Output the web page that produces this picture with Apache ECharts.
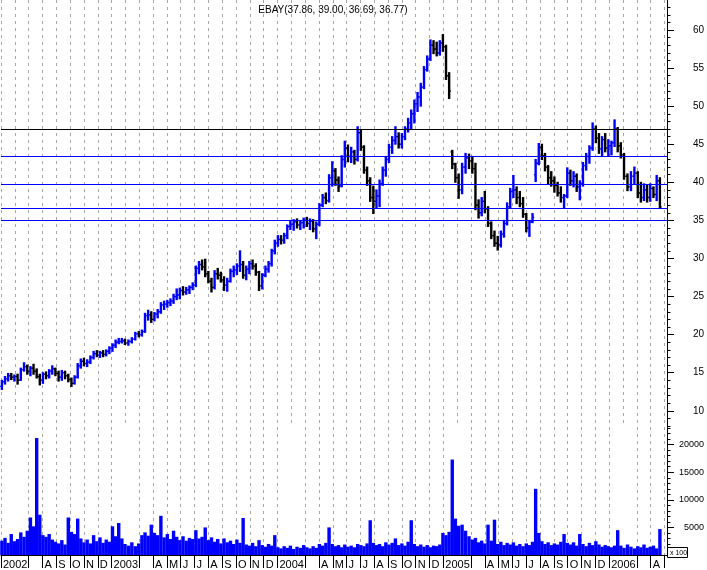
<!DOCTYPE html>
<html><head><meta charset="utf-8">
<script src="https://cdn.jsdelivr.net/npm/echarts@6/dist/echarts.min.js"></script>
<style>html,body{margin:0;padding:0;background:#fff}#c{width:707px;height:570px}</style>
</head><body><div id="c"></div>
<script>
const titleText = 'EBAY(37.86, 39.00, 36.69, 36.77)';
const firstWeek = [2002, 5, 3];
const open = [13.2,13.8,14.2,14.6,14.4,14.5,14.0,15.4,15.8,15.2,15.6,15.2,14.5,14.0,14.8,14.6,15.2,15.5,14.9,14.4,
15.0,14.6,14.1,13.6,14.4,15.9,16.5,16.2,16.4,17.0,17.5,17.3,17.6,17.4,17.8,18.2,18.6,19.0,19.1,19.2,
18.9,19.1,19.4,20.1,20.0,20.4,22.5,22.6,22.0,22.7,23.0,23.9,24.0,24.2,24.4,25.0,25.2,25.8,25.6,25.9,
26.2,26.5,28.7,29.2,28.9,28.0,27.0,26.2,28.0,27.8,27.2,26.5,27.0,28.3,28.5,29.0,29.2,27.8,28.6,29.3,
29.0,28.2,26.4,27.8,28.6,29.3,31.0,32.0,32.5,32.4,33.0,34.2,34.5,34.8,34.4,34.7,35.0,34.6,34.9,33.9,
34.5,37.0,38.0,37.6,40.6,41.5,40.3,39.5,43.0,44.5,43.4,44.0,43.0,46.5,44.6,41.6,40.2,38.0,37.5,38.2,
39.8,41.6,43.0,44.6,45.5,46.0,45.0,46.0,47.0,47.8,49.0,50.3,51.2,52.5,54.8,56.2,58.0,57.5,57.0,58.3,
57.8,54.0,44.0,42.4,40.6,39.0,42.0,43.2,42.8,41.8,37.0,36.0,37.5,36.5,34.6,33.0,32.0,31.8,33.2,34.6,
36.8,38.8,39.0,38.0,37.2,35.8,34.0,34.8,41.0,42.5,44.6,43.5,42.0,40.6,40.2,39.6,38.6,38.0,38.2,41.2,
40.2,40.8,39.4,39.8,42.2,43.4,44.5,47.0,45.8,44.4,45.6,44.5,44.8,45.2,47.0,44.8,43.6,40.8,39.4,40.8,
41.2,38.6,38.0,39.0,38.0,39.2,38.4,40.2];
const high = [14.0,14.5,14.9,14.9,14.7,14.8,15.6,16.3,16.0,15.8,16.1,15.5,14.8,15.0,15.1,15.4,15.9,15.6,15.2,15.3,
15.2,14.8,14.3,14.6,16.2,16.8,16.9,16.7,17.2,17.8,17.9,17.8,17.9,18.0,18.4,18.8,19.3,19.5,19.5,19.4,
19.3,19.6,20.3,20.4,20.6,22.8,23.2,23.0,22.9,23.3,24.2,24.4,24.5,24.7,25.3,26.0,26.1,26.3,26.2,26.4,
26.8,29.0,29.6,29.8,29.9,28.3,27.4,28.4,28.7,28.2,27.6,27.4,28.6,29.0,29.3,31.0,29.6,29.0,29.6,29.8,
29.3,28.3,28.0,29.0,29.6,31.2,32.4,33.0,33.0,33.3,34.4,35.0,35.1,35.2,35.0,35.3,35.4,35.2,35.1,34.8,
37.2,38.4,38.6,41.0,42.7,41.8,40.7,43.5,45.4,44.9,44.6,44.2,47.3,46.8,44.8,42.0,40.6,39.5,39.0,40.3,
42.0,43.4,45.0,46.0,47.3,46.5,46.4,47.3,48.4,49.5,50.8,51.8,53.0,55.2,56.6,58.7,58.6,58.4,58.6,59.4,
58.0,54.4,44.2,42.5,41.1,42.5,43.8,43.7,43.4,42.5,37.7,38.0,38.8,36.8,34.8,33.6,32.9,33.6,35.0,37.3,
39.2,40.9,39.4,38.8,38.0,35.9,35.0,35.9,43.0,45.1,45.0,43.8,42.2,41.4,40.7,40.0,39.4,38.4,41.9,41.6,
41.4,41.1,40.2,42.6,43.8,44.8,47.8,47.4,46.4,46.0,46.4,45.6,45.4,48.2,47.2,45.2,43.8,41.1,41.4,42.0,
41.4,40.0,39.8,39.6,39.8,39.4,40.9,40.6];
const low = [12.8,13.5,13.9,14.1,13.9,13.5,14.0,15.2,14.8,14.6,14.8,14.3,13.4,13.6,14.2,14.3,14.8,14.6,13.9,14.0,
14.2,13.8,13.2,13.5,14.3,15.6,15.9,15.8,16.2,16.8,17.1,17.0,17.1,17.2,17.5,17.8,18.3,18.8,18.9,18.7,
18.6,18.9,19.3,19.7,19.8,20.3,21.9,21.6,21.8,22.2,22.8,23.3,23.6,23.8,24.1,24.6,24.7,25.2,25.3,25.4,
25.9,26.3,28.0,28.5,27.6,26.8,25.6,26.0,27.3,26.9,25.8,25.7,26.9,27.6,27.9,28.3,27.4,27.2,28.0,28.6,
27.8,25.8,26.0,27.6,28.2,29.0,30.6,31.6,31.9,32.0,32.6,33.8,33.7,34.0,33.8,34.0,34.2,33.8,33.5,32.6,
34.3,36.8,37.2,37.4,39.5,39.6,38.8,39.4,42.0,42.7,42.6,42.4,42.8,44.2,41.2,39.6,37.5,35.9,36.6,36.8,
39.6,40.8,42.6,43.8,45.0,44.5,44.5,45.6,46.6,47.0,47.8,49.3,50.0,52.3,54.6,56.0,56.9,56.6,56.7,57.2,
53.5,51.0,41.8,40.0,37.9,38.5,41.2,41.8,41.2,36.4,35.3,35.6,36.0,34.2,32.6,31.6,31.1,31.5,32.8,34.4,
36.6,38.0,37.2,36.8,35.4,33.5,32.9,34.7,40.1,42.3,43.0,41.5,39.8,39.5,38.7,38.2,37.4,36.6,38.0,39.6,
39.4,38.8,37.7,39.5,41.6,42.5,44.2,45.2,43.8,43.4,44.0,43.4,43.6,44.7,44.0,43.2,40.4,38.9,38.9,39.8,
38.0,37.4,37.6,37.4,37.5,38.0,37.6,36.69];
const close = [13.8,14.2,14.6,14.4,14.5,14.0,15.4,15.8,15.2,15.6,15.2,14.5,14.0,14.8,14.6,15.2,15.5,14.9,14.4,15.0,
14.6,14.1,13.6,14.4,15.9,16.5,16.2,16.4,17.0,17.5,17.3,17.6,17.4,17.8,18.2,18.6,19.0,19.1,19.2,18.9,
19.1,19.4,20.1,20.0,20.4,22.5,22.6,22.0,22.7,23.0,23.9,24.0,24.2,24.4,25.0,25.2,25.8,25.6,25.9,26.2,
26.5,28.7,29.2,28.9,28.0,27.0,26.2,28.0,27.8,27.2,26.5,27.0,28.3,28.5,29.0,29.2,27.8,28.6,29.3,29.0,
28.2,26.4,27.8,28.6,29.3,31.0,32.0,32.5,32.4,33.0,34.2,34.5,34.8,34.4,34.7,35.0,34.6,34.9,33.9,34.5,
37.0,38.0,37.6,40.6,41.5,40.3,39.5,43.0,44.5,43.4,44.0,43.0,46.5,44.6,41.6,40.2,38.0,37.5,38.2,39.8,
41.6,43.0,44.6,45.5,46.0,45.0,46.0,47.0,47.8,49.0,50.3,51.2,52.5,54.8,56.2,58.0,57.5,57.0,58.3,57.8,
54.0,52.0,42.4,40.6,39.0,42.0,43.2,42.8,41.8,37.0,36.0,37.5,36.5,34.6,33.0,32.0,31.8,33.2,34.6,36.8,
38.8,39.0,38.0,37.2,35.8,34.0,34.8,35.4,42.5,44.6,43.5,42.0,40.6,40.2,39.6,38.6,38.0,38.2,41.2,40.2,
40.8,39.4,39.8,42.2,43.4,44.5,47.0,45.8,44.4,45.6,44.5,44.8,45.2,47.0,44.8,43.6,40.8,39.4,40.8,41.2,
38.6,38.0,39.0,38.0,39.2,38.4,40.2,36.77];
const volume = [2600,3100,2200,3800,2500,2900,4100,3300,4400,6800,5200,21200,7300,3600,3300,3800,2800,2400,2100,2700,
1900,6800,4200,3800,6600,3000,2300,2800,2100,3600,2500,3200,2200,2800,2400,5200,3400,5800,3000,2000,
1700,2300,1600,2100,3600,4100,3500,5500,4000,3600,7100,3200,3800,2900,4400,3300,2700,3400,2600,3100,
2900,4500,3000,3300,5000,2700,3200,2400,2900,2100,3000,2300,2600,2000,2800,2200,6700,1900,1700,2200,
1600,2700,1800,1500,2000,1700,3600,1400,1200,1600,1300,1700,1100,1500,1300,1800,1400,1200,1600,1300,
2000,1700,2200,5000,2000,1600,1800,1400,1900,1500,1700,1400,2000,1800,1600,2100,6300,2200,1800,2000,
1600,2300,1900,2200,3000,1800,2100,1700,2400,6300,2000,1600,1900,1500,1800,1400,1700,1600,1900,4000,
3600,4200,17300,6600,5300,5500,4400,3400,2800,3100,2300,2600,2100,5500,2600,6400,2000,2400,1800,2200,
1900,2300,1700,2000,1600,2100,1800,2400,12000,4000,2500,2000,2300,1800,2100,1900,2400,3800,2200,1900,
2300,1700,3800,2000,1600,2200,1800,2500,1900,1500,1800,1600,1400,1700,4500,1700,1300,1900,1500,1200,
1600,1400,1900,1300,1500,1700,1200,4700];
const levels = [46.96, 43.36, 39.73, 36.58, 35.0];
const levelColors = ['#000000', '#0000ff', '#0000ff', '#0000ff', '#0000ff'];
const priceLabels = [10, 15, 20, 25, 30, 35, 40, 45, 50, 55, 60];
const volumeLabels = [5000, 10000, 15000, 20000];
const monthLetters = ['J','F','M','A','M','J','J','A','S','O','N','D'];

// weekly dates (categories)
const weekDates = [];
for (let i = 0; i < close.length; i++) {
  const d = new Date(Date.UTC(firstWeek[0], firstWeek[1] - 1, firstWeek[2] + 7 * i));
  weekDates.push(d.toISOString().slice(0, 10));
}
function monthPos(s) {
  const y = +s.slice(0, 4), m = +s.slice(5, 7) - 1, day = +s.slice(8, 10);
  const dim = new Date(Date.UTC(y, m + 1, 0)).getUTCDate();
  return (y - 2002) * 12 + m + (day - 1) / dim;
}
const weekX = weekDates.map(monthPos);

const priceMinor = []; for (let v = 8; v <= 63; v++) priceMinor.push(v);
const volMinor = []; for (let v = 1000; v <= 23000; v += 1000) volMinor.push(v);
const tickMonths = [], labelMonths = [];
for (let m = 4; m <= 52; m++) {
  if (m % 12 !== 1 && m !== 5) tickMonths.push(m);
  if (m <= 51 && (m === 4 || m % 12 === 0 || (m % 12 >= 3 && m !== 5 && m !== 6))) labelMonths.push(m);
}
function monthLabel(v) {
  const m = Math.round(v);
  if (Math.abs(v - m) > 1e-6) return '';
  if (m === 4) return '2002';
  if (m % 12 === 0) return String(2002 + m / 12);
  if (m % 12 === 1 || m % 12 === 2 || m === 5 || m === 6) return '';
  return monthLetters[m % 12];
}

const FONT = '"Liberation Sans", Arial, sans-serif';
const XMIN = 4, XMAX = 52.18;
const dashed = { show: true, lineStyle: { color: '#a8a8a8', type: [3, 4], width: 1 } };

const chart = echarts.init(document.getElementById('c'), null, { renderer: 'canvas' });
chart.setOption({
  animation: false,
  backgroundColor: '#ffffff',
  textStyle: { fontFamily: FONT },
  grid: [
    { left: 1, right: 40, top: 0, bottom: 144 },
    { left: 1, right: 40, top: 427, bottom: 13 }
  ],
  xAxis: [
    { gridIndex: 0, type: 'value', min: XMIN, max: XMAX, interval: 1,
      axisLine: { show: false }, axisTick: { show: false }, axisLabel: { show: false }, splitLine: dashed },
    { gridIndex: 1, type: 'value', min: XMIN, max: XMAX, interval: 1,
      axisLine: { show: true, onZero: false, lineStyle: { color: '#000', width: 1 } },
      axisTick: { show: true, length: 13, customValues: tickMonths, lineStyle: { color: '#000', width: 1 } },
      axisLabel: { show: true, customValues: labelMonths, formatter: monthLabel, align: 'left', margin: 4,
        padding: [0, 0, 0, 2], fontSize: 11, color: '#000', fontFamily: FONT },
      splitLine: dashed }
  ],
  yAxis: [
    { gridIndex: 0, type: 'value', position: 'right', min: 8, max: 63.94,
      axisLine: { show: true, lineStyle: { color: '#000', width: 1 } },
      axisTick: { show: true, length: 7, customValues: priceLabels, lineStyle: { color: '#000' } },
      axisLabel: { show: true, customValues: priceLabels, formatter: v => String(v), align: 'right', margin: 37,
        fontSize: 10, color: '#000', fontFamily: FONT },
      splitLine: { show: false } },
    { gridIndex: 0, type: 'value', position: 'right', min: 8, max: 63.94,
      axisLine: { show: false },
      axisTick: { show: true, length: 3.5, customValues: priceMinor, lineStyle: { color: '#000' } },
      axisLabel: { show: false }, splitLine: { show: false } },
    { gridIndex: 1, type: 'value', position: 'right', min: 0, max: 23200,
      axisLine: { show: true, lineStyle: { color: '#000', width: 1 } },
      axisTick: { show: true, length: 7, customValues: volumeLabels, lineStyle: { color: '#000' } },
      axisLabel: { show: true, customValues: volumeLabels, formatter: v => String(v), align: 'right', margin: 37,
        fontSize: 9, color: '#000', fontFamily: FONT },
      splitLine: { show: false } },
    { gridIndex: 1, type: 'value', position: 'right', min: 0, max: 23200,
      axisLine: { show: false },
      axisTick: { show: true, length: 3.5, customValues: volMinor, lineStyle: { color: '#000' } },
      axisLabel: { show: false }, splitLine: { show: false } }
  ],
  graphic: [
    { type: 'text', x: 333, y: 10, z: 100,
      style: { text: titleText, fontSize: 10, fontFamily: FONT, fill: '#000',
        align: 'center', verticalAlign: 'middle', textAlign: 'center', textVerticalAlign: 'middle' } },
    { type: 'rect', z: 100, shape: { x: 667.5, y: 547.5, width: 20, height: 10 },
      style: { fill: '#fff', stroke: '#000', lineWidth: 1 } },
    { type: 'text', x: 670, y: 553, z: 101,
      style: { text: 'x 100', fontSize: 7, fontFamily: FONT, fill: '#000',
        verticalAlign: 'middle', textVerticalAlign: 'middle' } }
  ],
  series: [
    { type: 'line', xAxisIndex: 0, yAxisIndex: 0, data: [[XMIN, levels[0]]], showSymbol: false, symbol: 'none',
      lineStyle: { opacity: 0 }, z: 1, silent: true,
      markLine: { silent: true, symbol: ['none', 'none'], label: { show: false }, animation: false,
        data: levels.map((v, i) => ({ yAxis: v, lineStyle: { color: levelColors[i], width: 1, type: 'solid' } })) } },
    { type: 'custom', xAxisIndex: 0, yAxisIndex: 0, z: 3,
      data: weekX.map((x, i) => [x, open[i], high[i], low[i], close[i]]),
      encode: { x: 0, y: [1, 2, 3, 4] },
      renderItem: function (params, api) {
        const x = api.value(0), o = api.value(1), h = api.value(2), l = api.value(3), c = api.value(4);
        const ph = api.coord([x, h]), pl = api.coord([x, l]), po = api.coord([x, o]), pc = api.coord([x, c]);
        const col = c >= o ? '#0000ff' : '#000000';
        return { type: 'group', children: [
          { type: 'line', shape: { x1: ph[0], y1: ph[1] - 0.5, x2: pl[0], y2: pl[1] + 0.5 }, style: { stroke: col, lineWidth: 2.4 } },
          { type: 'line', shape: { x1: po[0] - 1.7, y1: po[1], x2: po[0], y2: po[1] }, style: { stroke: col, lineWidth: 1.4 } },
          { type: 'line', shape: { x1: pc[0], y1: pc[1], x2: pc[0] + 1.7, y2: pc[1] }, style: { stroke: col, lineWidth: 1.4 } }
        ] };
      } },
    { type: 'custom', xAxisIndex: 1, yAxisIndex: 2, z: 3,
      data: weekX.map((x, i) => [x, volume[i]]),
      encode: { x: 0, y: 1 },
      renderItem: function (params, api) {
        const top = api.coord([api.value(0), api.value(1)]);
        const base = api.coord([api.value(0), 0]);
        return { type: 'rect', shape: { x: top[0] - 1.7, y: top[1], width: 3.4, height: base[1] - top[1] },
          style: { fill: '#0000ff' } };
      } }
  ]
});
</script></body></html>
